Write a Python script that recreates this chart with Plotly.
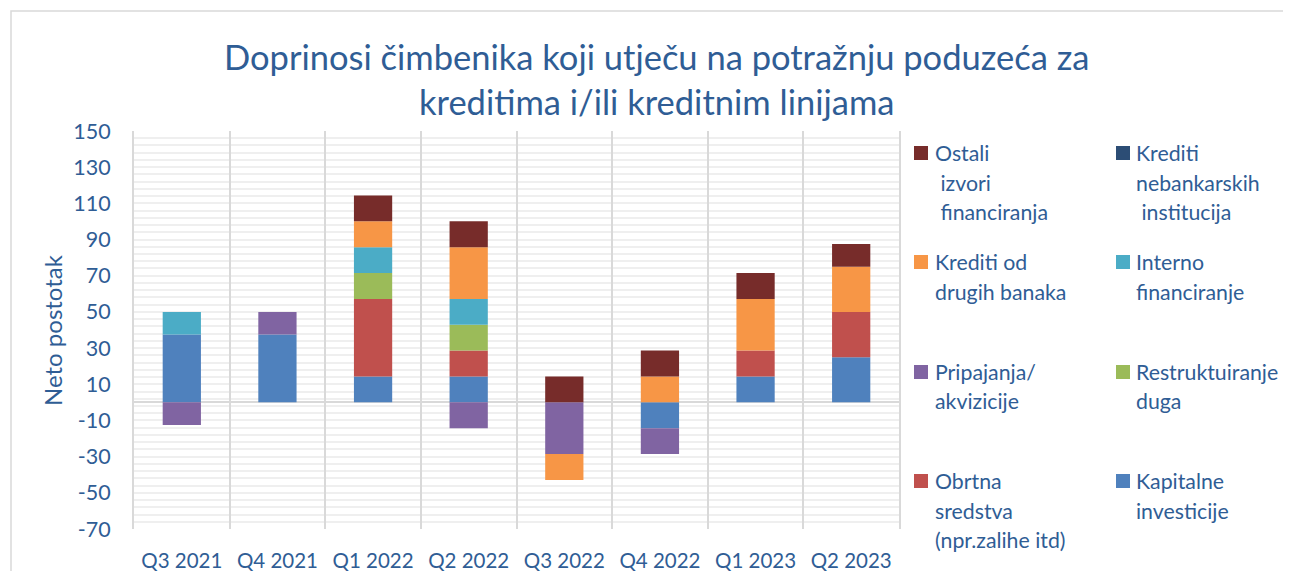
import plotly.graph_objects as go

categories = ["Q3 2021", "Q4 2021", "Q1 2022", "Q2 2022", "Q3 2022", "Q4 2022", "Q1 2023", "Q2 2023"]

kapitalne = [37.5, 37.5, 14.3, 14.3, 0, -14.3, 14.3, 25.0]
obrtna = [0, 0, 42.9, 14.3, 0, 0, 14.3, 25.0]
restrukt = [0, 0, 14.3, 14.3, 0, 0, 0, 0]
pripajanja = [-12.5, 12.5, 0, -14.3, -28.6, -14.3, 0, 0]
interno = [12.5, 0, 14.3, 14.3, 0, 0, 0, 0]
krediti_banaka = [0, 0, 14.3, 28.6, -14.3, 14.3, 28.6, 25.0]
krediti_nebank = [0, 0, 0, 0, 0, 0, 0, 0]
ostali = [0, 0, 14.3, 14.3, 14.3, 14.3, 14.3, 12.5]

y_ticks = list(range(-70, 151, 20))
y_tick_labels = [str(v) for v in y_ticks]

TXT = "#2F5D95"
FONT = "Lato"

series = [
    ("Kapitalne investicije", kapitalne, "#4F81BD"),
    ("Obrtna sredstva (npr.zalihe itd)", obrtna, "#C0504D"),
    ("Restruktuiranje duga", restrukt, "#9BBB59"),
    ("Pripajanja/ akvizicije", pripajanja, "#8064A2"),
    ("Interno financiranje", interno, "#4BACC6"),
    ("Krediti od drugih banaka", krediti_banaka, "#F79646"),
    ("Krediti nebankarskih institucija", krediti_nebank, "#2C4D75"),
    ("Ostali izvori financiranja", ostali, "#772C2A"),
]

# page offset (browser body margin) and plot area in screen pixels
OFF = 8
W, H = 1291, 571
PL, PR, PT, PB = 134, 899, 131, 529  # plot area on screen


def px(xs):
    return (xs - PL) / (PR - PL)


def py(ys):
    return (PB - ys) / (PB - PT)


fig = go.Figure()
for name, vals, col in series:
    fig.add_trace(go.Bar(x=categories, y=vals, name=name,
                         marker=dict(color=col, line=dict(width=0)),
                         showlegend=False))

legend_items = [
    (["Ostali", "\u00a0izvori", "\u00a0financiranja"], "#772C2A", 0, 0),
    (["Krediti", "nebankarskih", "\u00a0institucija"], "#2C4D75", 1, 0),
    (["Krediti od", "drugih banaka"], "#F79646", 0, 1),
    (["Interno", "financiranje"], "#4BACC6", 1, 1),
    (["Pripajanja/", "akvizicije"], "#8064A2", 0, 2),
    (["Restruktuiranje", "duga"], "#9BBB59", 1, 2),
    (["Obrtna", "sredstva", "(npr.zalihe itd)"], "#C0504D", 0, 3),
    (["Kapitalne", "investicije"], "#4F81BD", 1, 3),
]
col_sq_x = [914, 1116]
col_txt_x = [933, 1134]
row_sq_top = [146, 255, 365, 474]
line_gap = 29.5

shapes = []
annotations = []
for lines, col, ci, ri in legend_items:
    x0 = col_sq_x[ci]
    y0 = row_sq_top[ri]
    shapes.append(dict(type="rect", xref="paper", yref="paper",
                       x0=px(x0), x1=px(x0 + 14), y0=py(y0), y1=py(y0 + 14),
                       fillcolor=col, line=dict(width=0), layer="above"))
    for k, ln in enumerate(lines):
        yc = y0 + 7 + k * line_gap
        annotations.append(dict(text=ln, xref="paper", yref="paper",
                                x=px(col_txt_x[ci]), y=py(yc),
                                xanchor="left", yanchor="middle", showarrow=False,
                                font=dict(family=FONT, size=21.3, color=TXT)))

# title (two lines)
for txt, yc in [("Doprinosi čimbenika koji utječu na potražnju poduzeća za", 56),
                ("kreditima i/ili kreditnim linijama", 102)]:
    annotations.append(dict(text=txt, xref="paper", yref="paper",
                            x=px(656), y=py(yc), xanchor="center", yanchor="middle",
                            showarrow=False, font=dict(family=FONT, size=34.5, color=TXT)))

# y-axis title
annotations.append(dict(text="Neto postotak", xref="paper", yref="paper",
                        x=px(52), y=py(330), xanchor="center", yanchor="middle",
                        textangle=-90, showarrow=False,
                        font=dict(family=FONT, size=24, color=TXT)))

# chart border
shapes.append(dict(type="rect", xref="paper", yref="paper",
                   x0=px(11), x1=px(1340), y0=py(620), y1=py(11),
                   line=dict(color="#D9D9D9", width=1.5), fillcolor="rgba(0,0,0,0)", layer="below"))

fig.update_layout(
    barmode="relative",
    bargap=0.6,
    width=W, height=H,
    margin=dict(l=PL - OFF, r=W - (PR - OFF), t=PT - OFF, b=H - (PB - OFF)),
    paper_bgcolor="white",
    plot_bgcolor="white",
    font=dict(family=FONT, color=TXT),
    shapes=shapes,
    annotations=annotations,
)

fig.update_xaxes(
    type="category",
    tickson="boundaries",
    showgrid=True, gridcolor="#D9D9D9", gridwidth=2,
    ticks="", ticklabelstandoff=17,
    tickfont=dict(family=FONT, size=20.5, color=TXT),
    showline=False,
    automargin=False,
)
fig.update_yaxes(
    range=[-70, 150],
    tickvals=y_ticks,
    ticktext=y_tick_labels,
    showgrid=False,
    minor=dict(dtick=4, tick0=-70, showgrid=True, gridcolor="#EFEFEF", gridwidth=2),
    zeroline=True, zerolinecolor="#D9D9D9", zerolinewidth=2,
    showline=True, linecolor="#D9D9D9", linewidth=2, mirror=True,
    ticks="", ticklabelstandoff=17,
    tickfont=dict(family=FONT, size=21.5, color=TXT),
    automargin=False,
)

fig.write_html("out.html")
